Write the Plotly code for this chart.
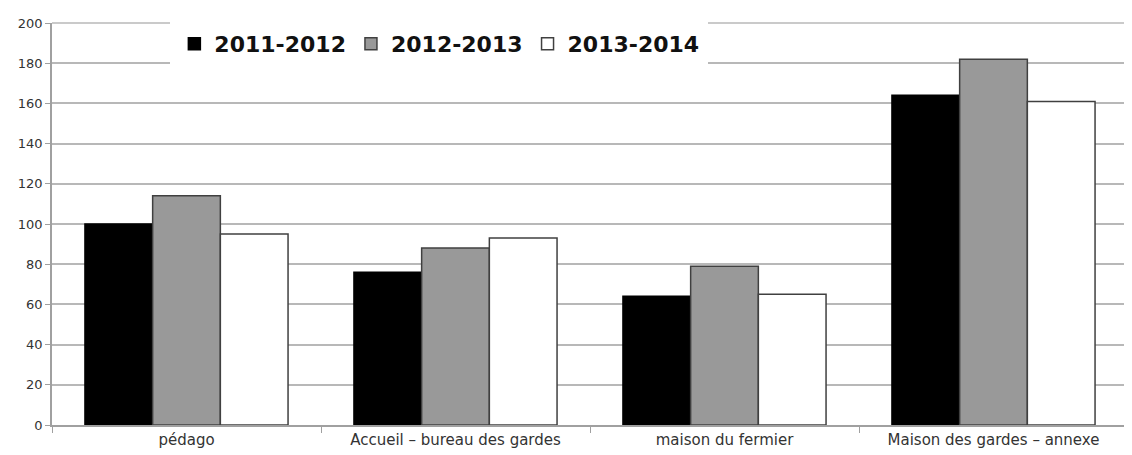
import plotly.graph_objects as go

# Données
categories = ["pédago", "Accueil – bureau des gardes", "maison du fermier", "Maison des gardes – annexe"]
saisons = ["2011-2012", "2012-2013", "2013-2014"]
valeurs_2011 = [100, 76, 64, 164]
valeurs_2012 = [114, 88, 79, 182]
valeurs_2013 = [95, 93, 65, 161]
y_ticks = [0, 20, 40, 60, 80, 100, 120, 140, 160, 180, 200]

GRID = "#b8b8b8"
STYLES = [
    dict(color="#000000", line=dict(color="#000000", width=1.5)),
    dict(color="#999999", line=dict(color="#404040", width=1.5)),
    dict(color="#ffffff", line=dict(color="#404040", width=1.5)),
]

fig = go.Figure()
for nom, vals, style in zip(saisons, [valeurs_2011, valeurs_2012, valeurs_2013], STYLES):
    fig.add_trace(go.Bar(x=categories, y=vals, name=nom, marker=style))

# cadre : ligne du haut (grille à 200) et bord droit clair
fig.add_shape(type="line", xref="paper", yref="paper", x0=0, x1=1, y0=1, y1=1,
              line=dict(color=GRID, width=1.5), layer="below")
fig.add_shape(type="line", xref="paper", yref="paper", x0=1, x1=1, y0=0, y1=1,
              line=dict(color="#d8d8d8", width=1.5), layer="below")

# la page a une marge de 8 px : on réduit la figure d'autant
fig.update_layout(
    width=1124,
    height=447,
    paper_bgcolor="white",
    plot_bgcolor="white",
    barmode="group",
    bargap=0.245,
    bargroupgap=0,
    margin=dict(l=44, r=4, t=15, b=30, autoexpand=False),
    font=dict(family="DejaVu Sans", color="#333333"),
    legend=dict(
        orientation="h",
        x=0.11, y=1.01,
        xanchor="left", yanchor="top",
        bgcolor="white",
        borderwidth=4, bordercolor="white",
        font=dict(family="DejaVu Sans", size=22, color="#111111", weight="bold"),
        itemwidth=30,
        tracegroupgap=0,
    ),
    showlegend=True,
)
fig.update_xaxes(
    automargin=False,
    showline=True, linecolor="#a0a0a0", linewidth=1.5,
    ticks="outside", tickson="boundaries", ticklen=6, tickcolor="#a0a0a0",
    tickfont=dict(size=15, color="#333333"),
    showgrid=False,
)
fig.update_yaxes(
    automargin=False,
    range=[0, 200], tickvals=y_ticks,
    showline=True, linecolor="#a0a0a0", linewidth=1.5,
    ticks="outside", ticklen=5, tickcolor="#a0a0a0",
    gridcolor=GRID, gridwidth=1.5,
    zeroline=False,
    tickfont=dict(size=13, color="#333333"),
)

fig.write_html("out.html")
